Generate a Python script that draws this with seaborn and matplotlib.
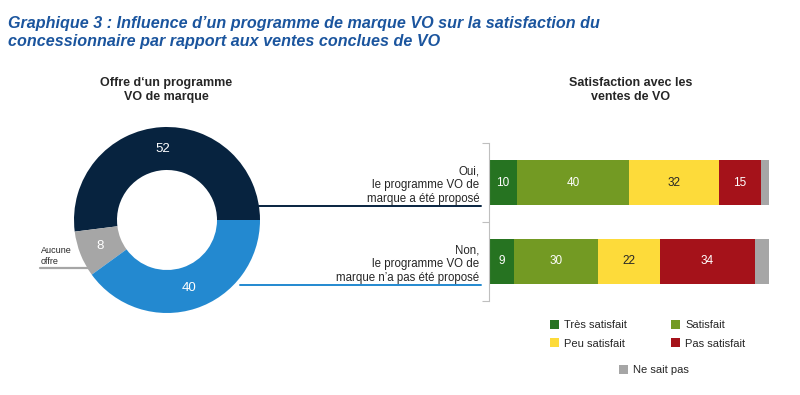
import matplotlib
matplotlib.use("Agg")
import matplotlib.pyplot as plt
from matplotlib.lines import Line2D
from matplotlib.patches import Patch
import seaborn as sns
import pandas as pd
import numpy as np

# ---------------- data ----------------
offer_labels = ["Oui", "Aucune offre", "Non"]
offer_values = [52, 8, 40]

groups = ["Oui,\nle programme VO de\nmarque a été proposé",
          "Non,\nle programme VO de\nmarque n\u2019a pas été proposé"]
levels = ["Très satisfait", "Satisfait", "Peu satisfait", "Pas satisfait", "Ne sait pas"]
tres = [10, 9]
satis = [40, 30]
peu = [32, 22]
pas = [15, 34]
nsp = [3, 5]

title = ("Graphique 3 : Influence d\u2019un programme de marque VO sur la satisfaction du\n"
         "concessionnaire par rapport aux ventes conclues de VO")
pie_title = "Offre d\u2018un programme\nVO de marque"
bar_title = "Satisfaction avec les\nventes de VO"

# ---------------- style ----------------
sns.set_theme(style="white")
plt.rcParams["font.family"] = ["Liberation Sans", "DejaVu Sans"]

navy, blue, grey = "#07233F", "#2389D0", "#A6A6A6"
level_colors = ["#267321", "#739A23", "#FDDB3A", "#A5121A", "#A6A6A6"]
text_col = "#262626"

W, H = 800, 395
fig = plt.figure(figsize=(W / 100, H / 100), dpi=100)


def fx(px):
    return px / W


def fy(py):
    return 1 - py / H


fig.text(fx(8), fy(16), title, ha="left", va="top", fontsize=11.6,
         fontweight="bold", fontstyle="italic", color="#1B559E", linespacing=1.24)

# ---------------- donut ----------------
cx, cy, R = 167, 220, 100
axp = fig.add_axes([fx(cx - R), fy(cy + R), 2 * R / W, 2 * R / H])
wedges, _ = axp.pie(offer_values, colors=[navy, grey, blue], startangle=0,
                    counterclock=True, radius=0.93,
                    wedgeprops=dict(width=0.43, edgecolor="none"))
axp.set_xlim(-1, 1)
axp.set_ylim(-1, 1)
axp.set_aspect("equal")
axp.axis("off")
rmid = 0.93 - 0.43 / 2
for w, v in zip(wedges, offer_values):
    ang = np.deg2rad((w.theta1 + w.theta2) / 2)
    axp.text(rmid * np.cos(ang), rmid * np.sin(ang), str(v), ha="center",
             va="center", color="white", fontsize=9.5)

fig.text(fx(166), fy(77), pie_title, ha="center", va="top", fontsize=9,
         fontweight="bold", color=text_col, linespacing=1.2)

fig.text(fx(41), fy(256), "Aucune\noffre", ha="left", va="center",
         fontsize=6.5, color=text_col, linespacing=1.3)

# connector lines
fig.add_artist(Line2D([fx(40), fx(92)], [fy(268), fy(268)], color=grey, lw=1.6))
fig.add_artist(Line2D([fx(259), fx(481)], [fy(206), fy(206)], color=navy, lw=1.4))
fig.add_artist(Line2D([fx(240), fx(481)], [fy(285), fy(285)], color=blue, lw=1.4))

# ---------------- stacked bars ----------------
axb = fig.add_axes([fx(489), fy(301), (769 - 489) / W, (301 - 143) / H])
df = pd.DataFrame({"group": groups, "Très satisfait": tres, "Satisfait": satis,
                   "Peu satisfait": peu, "Pas satisfait": pas, "Ne sait pas": nsp})
cum = df[levels].cumsum(axis=1)
for lev, col in reversed(list(zip(levels, level_colors))):
    sns.barplot(x=cum[lev], y=df["group"], color=col, orient="h", width=0.57,
                ax=axb, saturation=1, edgecolor="none", linewidth=0)

for i in range(len(groups)):
    left = 0
    for lev in levels:
        v = df.loc[i, lev]
        if lev != "Ne sait pas":
            c = text_col if lev == "Peu satisfait" else "white"
            axb.text(left + v / 2, i, str(v), ha="center", va="center",
                     fontsize=8.5, color=c)
        left += v

axb.set_xlim(0, 100)
axb.set_ylim(1.5, -0.5)
axb.set_xlabel("")
axb.set_ylabel("")
axb.set_xticks([])
axb.set_yticks([-0.5, 0.5, 1.5])
axb.set_yticklabels([])
axb.set_yticks([0, 1], minor=True)
axb.set_yticklabels(groups, minor=True, fontsize=8.3, color=text_col)
axb.tick_params(axis="y", which="major", length=5, width=0.8, color="#BFBFBF",
                direction="out", left=True)
axb.tick_params(axis="y", which="minor", length=0, pad=7, left=True)
for s in ["top", "right", "bottom"]:
    axb.spines[s].set_visible(False)
axb.spines["left"].set_color("#BFBFBF")
axb.spines["left"].set_linewidth(0.8)

fig.text(fx(631), fy(77), bar_title, ha="center", va="top", fontsize=9,
         fontweight="bold", color=text_col, linespacing=1.2)

# legend (row-wise order for a 2-column legend)
order = [0, 2, 1, 3]
h4 = [Patch(facecolor=level_colors[k], edgecolor="none") for k in order]
l4 = [levels[k] for k in order]
fig.legend(h4, l4, ncol=2, loc="upper left",
           bbox_to_anchor=(fx(540), fy(310)), frameon=False, fontsize=8,
           handlelength=0.8, handleheight=0.8, handletextpad=0.45,
           columnspacing=4.0, labelspacing=0.75, labelcolor=text_col)
fig.legend([Patch(facecolor=level_colors[4], edgecolor="none")], levels[4:],
           loc="upper left", bbox_to_anchor=(fx(609), fy(355)), frameon=False,
           fontsize=8, handlelength=0.8, handleheight=0.8, handletextpad=0.45,
           labelcolor=text_col)

fig.savefig("out.png", dpi=100)
